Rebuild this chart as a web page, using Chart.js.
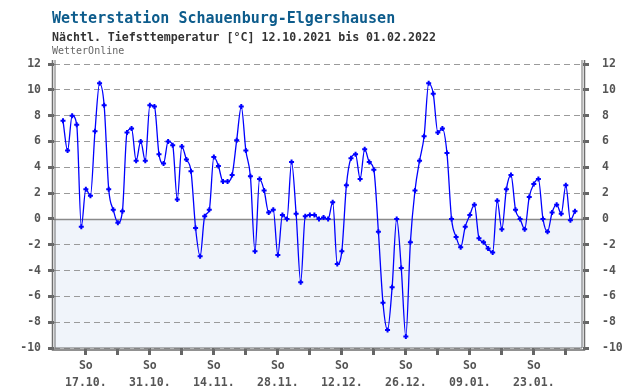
<!DOCTYPE html>
<html>
<head>
<meta charset="utf-8">
<script src="https://cdn.jsdelivr.net/npm/chart.js@4.4.0/dist/chart.umd.min.js"></script>
<style>
body{margin:0;background:#fff;}
#wrap{position:relative;width:640px;height:390px;}
.t{position:absolute;left:52px;font-family:'DejaVu Sans Mono',monospace;white-space:nowrap;line-height:1;}
canvas{position:absolute;left:0;top:0;}
</style>
</head>
<body>
<div id="wrap">
<canvas id="chart" width="640" height="390"></canvas>
<div class="t" style="top:11px;font-size:15px;font-weight:bold;color:#0d5c8c">Wetterstation Schauenburg-Elgershausen</div>
<div class="t" style="top:32px;font-size:11.6px;font-weight:bold;color:#333">Nächtl. Tiefsttemperatur [°C] 12.10.2021 bis 01.02.2022</div>
<div class="t" style="top:46px;font-size:10px;color:#666">WetterOnline</div>
</div>
<script>
// Tiefsttemperatur je Nacht, 12.10.2021 .. 01.02.2022
const temps = [
 7.6, 5.3, 8.0, 7.3, -0.6, 2.3, 1.8, 6.8, 10.5, 8.8,
 2.3, 0.7, -0.3, 0.6, 6.7, 7.0, 4.5, 6.0, 4.5, 8.8,
 8.7, 5.0, 4.3, 6.0, 5.7, 1.5, 5.6, 4.6, 3.7, -0.7,
 -2.9, 0.2, 0.7, 4.8, 4.1, 2.9, 2.9, 3.4, 6.1, 8.7,
 5.3, 3.3, -2.5, 3.1, 2.2, 0.5, 0.7, -2.8, 0.3, 0.0,
 4.4, 0.4, -4.9, 0.2, 0.3, 0.3, 0.0, 0.1, 0.0, 1.3,
 -3.5, -2.5, 2.6, 4.7, 5.0, 3.1, 5.4, 4.4, 3.8, -1.0,
 -6.5, -8.6, -5.3, 0.0, -3.8, -9.1, -1.8, 2.2, 4.5, 6.4,
 10.5, 9.7, 6.7, 7.0, 5.1, 0.0, -1.4, -2.2, -0.6, 0.3,
 1.1, -1.5, -1.8, -2.3, -2.6, 1.4, -0.8, 2.3, 3.4, 0.7,
 0.0, -0.8, 1.7, 2.7, 3.1, 0.0, -1.0, 0.5, 1.1, 0.4,
 2.6, -0.1, 0.6
];
// Sonntage (Tag-Index ab 12.10.) und Beschriftung
const tickDays = [5, 12, 19, 26, 33, 40, 47, 54, 61, 68, 75, 82, 89, 96, 103, 110];
const tickLabels = ['17.10.', '', '31.10.', '', '14.11.', '', '28.11.', '', '12.12.', '', '26.12.', '', '09.01.', '', '23.01.', ''];
const yMin = -10, yMax = 12;

const tickFont = {family: "'DejaVu Sans Mono', monospace", size: 11.5, weight: 'bold'};

const rahmen = {
  id: 'rahmen',
  beforeDraw(chart) {
    const {ctx, chartArea: a, scales} = chart;
    const y0 = scales.y.getPixelForValue(0);
    ctx.save();
    ctx.fillStyle = '#f0f4fa';
    ctx.fillRect(a.left, y0, a.right - a.left, a.bottom - y0);
    ctx.restore();
  },
  beforeDatasetsDraw(chart) {
    const {ctx, chartArea: a, scales} = chart;
    const y0 = Math.round(scales.y.getPixelForValue(0)) + 0.5;
    ctx.save();
    ctx.strokeStyle = '#8a8a8a';
    ctx.lineWidth = 1.5;
    ctx.beginPath();
    ctx.moveTo(a.left, y0);
    ctx.lineTo(a.right, y0);
    ctx.stroke();
    // doppelter Rahmen
    ctx.strokeStyle = '#6e6e6e';
    ctx.lineWidth = 1.5;
    ctx.beginPath();
    ctx.moveTo(a.left - 1.5, a.top - 4);
    ctx.lineTo(a.left - 1.5, a.bottom + 2);
    ctx.lineTo(a.right + 1.5, a.bottom + 2);
    ctx.lineTo(a.right + 1.5, a.top - 4);
    ctx.stroke();
    ctx.lineWidth = 1;
    ctx.beginPath();
    ctx.moveTo(a.left + 1, a.top - 4);
    ctx.lineTo(a.left + 1, a.bottom);
    ctx.lineTo(a.right - 1, a.bottom);
    ctx.lineTo(a.right - 1, a.top - 4);
    ctx.stroke();
    ctx.restore();
  }
};

new Chart('chart', {
  type: 'line',
  data: {
    datasets: [{
      data: temps.map((t, i) => ({x: i, y: t})),
      borderColor: '#0000ff',
      borderWidth: 1.3,
      cubicInterpolationMode: 'monotone',
      pointStyle: 'cross',
      pointRadius: 2.5,
      pointBorderWidth: 2,
      pointBorderColor: '#0000ff',
      fill: false
    }]
  },
  options: {
    responsive: false,
    animation: false,
    devicePixelRatio: 1,
    layout: {padding: {top: 64}},
    plugins: {legend: {display: false}, tooltip: {enabled: false}},
    scales: {
      x: {
        type: 'linear',
        min: -1.97,
        max: 113.76,
        afterBuildTicks: s => { s.ticks = tickDays.map(v => ({value: v})); },
        afterFit: s => { s.height = 42; },
        border: {display: false},
        grid: {drawOnChartArea: false, tickLength: 7, tickWidth: 3, tickColor: '#666'},
        ticks: {
          autoSkip: false, maxRotation: 0, padding: 3, color: '#555',
          font: Object.assign({}, tickFont, {lineHeight: 1.45}),
          callback: v => {
            const l = tickLabels[tickDays.indexOf(v)];
            return l ? ['So', l] : '';
          }
        }
      },
      y: {
        position: 'left',
        min: yMin, max: yMax,
        afterFit: s => { s.width = 54; },
        border: {display: false, dash: [6, 4]},
        grid: {color: ctx => ctx.tick && ctx.tick.value === 0 ? 'rgba(0,0,0,0)' : '#9a9a9a', lineWidth: 1, tickLength: 6, tickWidth: 3, tickColor: '#666', tickBorderDash: []},
        ticks: {stepSize: 2, padding: 7, color: '#555', font: tickFont}
      },
      y2: {
        position: 'right',
        min: yMin, max: yMax,
        afterFit: s => { s.width = 57; },
        border: {display: false},
        grid: {drawOnChartArea: false, tickLength: 6, tickWidth: 3, tickColor: '#666'},
        ticks: {stepSize: 2, padding: 13, color: '#555', font: tickFont}
      }
    }
  },
  plugins: [rahmen]
});
</script>
</body>
</html>
